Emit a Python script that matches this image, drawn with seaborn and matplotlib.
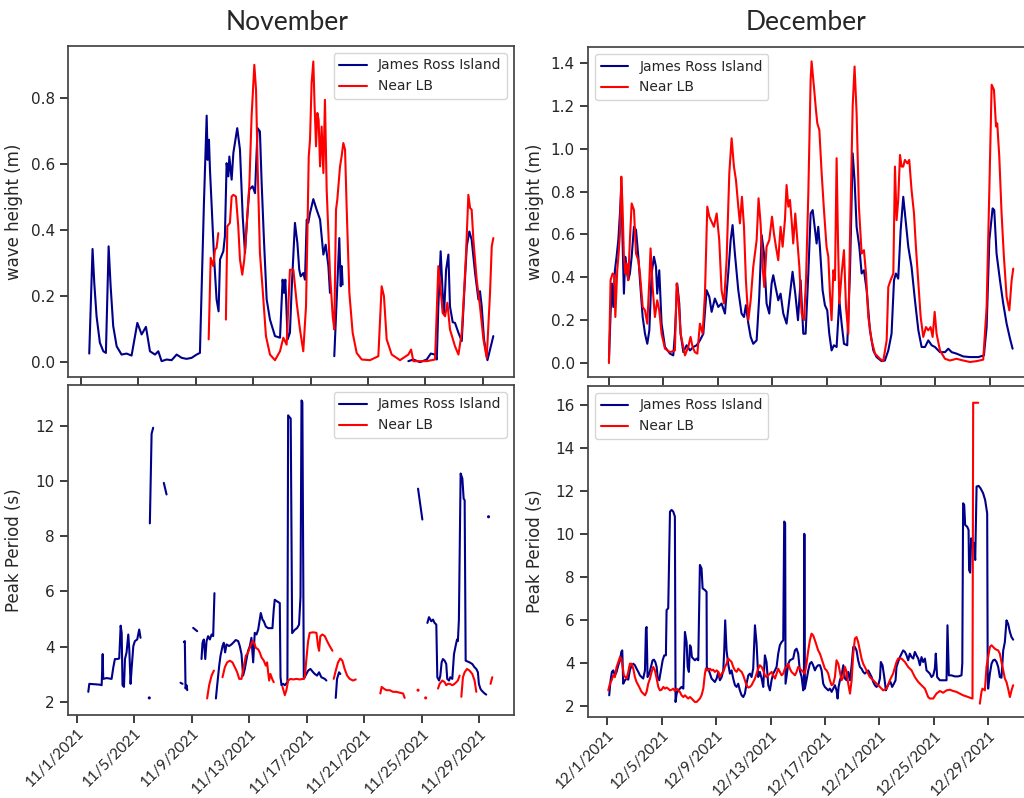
import numpy as np
import pandas as pd
import matplotlib
matplotlib.use("Agg")
import matplotlib.pyplot as plt
import seaborn as sns

N = np.nan

# ---------------- data (t = days since start of month, NaN = gap) ----------------
nov_wave_jri_t = [0.58,0.81,0.93,1.09,1.32,1.56,1.74,1.93,2.07,2.25,2.49,2.83,3.18,3.53,3.93,4.23,4.53,4.81,5.16,5.39,5.62,5.97,6.32,6.67,7.02,7.36,7.71,8.06,8.29,8.57,8.76,8.83,8.92,8.99,9.11,9.27,9.45,9.59,9.69,9.92,10.03,10.15,10.27,10.34,10.50,10.62,10.89,11.08,11.27,11.43,11.59,11.73,11.96,12.13,12.20,12.31,12.47,12.59,12.75,12.94,13.17,13.52,13.87,14.05,14.15,14.24,14.40,14.56,14.68,14.91,15.08,15.21,15.31,15.49,15.61,15.73,15.84,15.96,16.19,16.42,16.66,16.89,17.05,17.24,17.35,N,
                  17.65,18.00,18.10,18.17,18.23,N,
                  22.81,23.16,23.62,24.09,24.37,24.67,24.79,24.90,25.06,25.20,25.30,25.44,25.60,25.71,25.90,26.06,26.30,26.53,26.69,26.88,27.06,27.22,27.46,27.69,27.80,27.92,28.08,28.32,28.50,28.73]
nov_wave_jri_v = [0.026,0.343,0.240,0.139,0.059,0.033,0.028,0.351,0.230,0.109,0.048,0.023,0.026,0.020,0.119,0.084,0.107,0.033,0.023,0.033,0.003,0.008,0.006,0.023,0.013,0.010,0.013,0.023,0.028,0.482,0.747,0.613,0.674,0.583,0.472,0.321,0.190,0.154,0.311,0.336,0.381,0.603,0.563,0.623,0.553,0.634,0.709,0.644,0.442,0.331,0.442,0.523,0.533,0.512,0.593,0.709,0.699,0.543,0.371,0.190,0.129,0.079,0.074,0.250,0.210,0.250,0.069,0.089,0.220,0.422,0.361,0.280,0.260,0.270,0.250,0.432,0.422,0.452,0.494,0.462,0.432,0.326,0.356,0.291,0.210,N,
                  0.018,0.376,0.230,0.291,0.235,N,
                  0.003,0.008,0.000,0.008,0.026,0.023,0.008,0.169,0.336,0.210,0.149,0.280,0.326,0.169,0.121,0.119,0.089,0.064,0.200,0.351,0.396,0.371,0.270,0.190,0.215,0.169,0.069,0.006,0.038,0.079]

nov_wave_lb_t = [8.90,9.04,9.22,9.34,9.45,9.57,N,
                 10.10,10.20,10.38,10.50,10.62,10.80,10.96,11.08,11.24,11.38,11.54,11.73,11.89,12.08,12.20,12.31,12.47,12.66,12.89,13.17,13.52,13.87,14.10,14.33,14.56,14.80,15.03,15.26,15.49,15.68,15.77,15.87,15.96,16.07,16.19,16.28,16.38,16.47,16.56,16.66,16.77,16.89,17.00,17.12,17.35,17.54,17.65,17.77,17.86,18.05,18.16,18.28,18.40,18.51,18.70,18.93,19.21,19.56,20.14,20.72,20.95,21.11,21.30,21.65,22.23,22.81,23.00,23.16,24.09,24.67,24.90,25.02,25.20,25.37,25.53,25.71,26.06,26.30,26.53,26.69,26.83,26.99,27.11,27.22,27.34,27.57,27.80,28.04,28.27,28.50,28.62,28.73]
nov_wave_lb_v = [0.069,0.316,0.291,0.341,0.346,0.391,N,
                 0.129,0.412,0.422,0.502,0.507,0.502,0.412,0.311,0.265,0.311,0.412,0.533,0.745,0.901,0.825,0.593,0.331,0.220,0.079,0.023,0.006,0.033,0.074,0.053,0.280,0.280,0.180,0.099,0.033,0.169,0.371,0.623,0.674,0.845,0.911,0.775,0.654,0.755,0.734,0.593,0.714,0.573,0.795,0.523,0.270,0.139,0.099,0.462,0.492,0.593,0.623,0.664,0.644,0.472,0.210,0.089,0.028,0.008,0.006,0.018,0.230,0.200,0.069,0.023,0.006,0.023,0.038,0.003,0.003,0.008,0.291,0.240,0.149,0.139,0.180,0.099,0.048,0.023,0.089,0.210,0.331,0.507,0.467,0.462,0.371,0.250,0.169,0.069,0.013,0.210,0.351,0.376]

dec_wave_jri_t = [0.00,0.12,0.22,0.32,0.44,0.56,0.69,0.81,0.91,1.00,1.10,1.20,1.30,1.42,1.54,1.67,1.84,1.99,2.16,2.28,2.48,2.65,2.82,2.97,3.14,3.31,3.46,3.55,3.70,3.87,4.12,4.49,4.73,4.85,5.02,5.17,5.27,5.47,5.71,5.96,6.20,6.45,6.69,6.94,7.18,7.38,7.55,7.79,8.04,8.28,8.53,8.77,8.95,9.09,9.26,9.51,9.75,9.93,10.07,10.25,10.42,10.61,10.86,11.05,11.23,11.40,11.59,11.79,11.96,12.08,12.25,12.45,12.62,12.82,13.06,13.31,13.50,13.70,13.90,14.09,14.29,14.46,14.66,14.83,14.98,15.15,15.27,15.39,15.51,15.71,15.88,16.05,16.20,16.37,16.54,16.74,16.94,17.11,17.28,17.52,17.72,17.92,18.06,18.21,18.41,18.58,18.75,18.95,19.19,19.44,19.68,20.05,20.29,20.54,20.78,20.96,21.10,21.27,21.45,21.64,21.84,22.01,22.25,22.50,22.75,22.99,23.24,23.48,23.73,23.97,24.34,24.71,24.95,25.20,25.56,26.05,26.54,27.16,27.57,27.77,27.97,28.21,28.33,28.50,28.75,28.99,29.24,29.49,29.68]
dec_wave_jri_v = [0.012,0.231,0.371,0.262,0.433,0.496,0.574,0.698,0.823,0.574,0.324,0.496,0.433,0.387,0.418,0.496,0.636,0.621,0.496,0.387,0.215,0.137,0.090,0.153,0.418,0.496,0.449,0.324,0.433,0.184,0.075,0.044,0.036,0.137,0.371,0.278,0.137,0.051,0.083,0.059,0.075,0.083,0.106,0.137,0.340,0.309,0.239,0.301,0.262,0.278,0.231,0.418,0.574,0.644,0.511,0.340,0.231,0.215,0.270,0.184,0.122,0.090,0.106,0.309,0.597,0.511,0.278,0.231,0.371,0.410,0.355,0.293,0.324,0.231,0.184,0.324,0.426,0.324,0.200,0.387,0.137,0.137,0.418,0.698,0.714,0.621,0.558,0.636,0.543,0.340,0.270,0.246,0.137,0.059,0.083,0.075,0.293,0.184,0.090,0.083,0.418,0.979,0.854,0.636,0.543,0.418,0.433,0.340,0.153,0.059,0.028,0.009,0.012,0.059,0.137,0.387,0.418,0.394,0.621,0.776,0.652,0.543,0.449,0.293,0.153,0.075,0.075,0.106,0.083,0.075,0.051,0.051,0.067,0.051,0.044,0.031,0.028,0.028,0.036,0.168,0.574,0.722,0.714,0.511,0.387,0.278,0.184,0.114,0.067]

dec_wave_lb_t = [0.00,0.12,0.27,0.39,0.47,0.61,0.71,0.81,0.91,1.00,1.10,1.20,1.30,1.42,1.54,1.67,1.84,1.99,2.16,2.28,2.48,2.65,2.82,2.97,3.06,3.21,3.38,3.55,3.70,3.87,4.12,4.49,4.85,4.98,5.10,5.27,5.59,5.83,6.00,6.15,6.32,6.50,6.69,6.89,7.06,7.23,7.38,7.55,7.72,7.92,8.11,8.28,8.46,8.65,8.85,9.02,9.19,9.34,9.51,9.63,9.78,9.93,10.07,10.25,10.42,10.61,10.86,11.00,11.15,11.30,11.42,11.59,11.79,11.99,12.13,12.28,12.45,12.62,12.77,12.94,13.06,13.19,13.31,13.43,13.55,13.70,13.85,14.00,14.17,14.34,14.49,14.66,14.83,14.90,15.07,15.22,15.32,15.47,15.64,15.81,16.00,16.13,16.25,16.37,16.50,16.62,16.74,16.84,16.94,17.11,17.28,17.43,17.60,17.72,17.92,18.06,18.21,18.38,18.58,18.75,18.90,19.07,19.31,19.56,19.93,20.17,20.42,20.54,20.71,20.91,21.03,21.15,21.27,21.40,21.52,21.64,21.76,21.94,22.08,22.25,22.43,22.57,22.75,22.92,23.11,23.31,23.48,23.65,23.80,23.95,24.09,24.34,24.71,25.07,25.56,26.05,26.54,27.03,27.52,27.77,27.97,28.14,28.31,28.46,28.55,28.70,28.87,29.04,29.24,29.44,29.61,29.73]
dec_wave_lb_v = [0.000,0.387,0.418,0.410,0.215,0.433,0.511,0.605,0.870,0.730,0.496,0.418,0.465,0.387,0.574,0.745,0.714,0.511,0.480,0.418,0.262,0.246,0.184,0.387,0.535,0.355,0.215,0.293,0.246,0.137,0.067,0.051,0.059,0.371,0.309,0.137,0.036,0.075,0.122,0.075,0.051,0.044,0.184,0.137,0.324,0.730,0.683,0.660,0.636,0.698,0.574,0.340,0.278,0.480,0.886,1.049,0.917,0.854,0.730,0.652,0.776,0.636,0.387,0.200,0.293,0.449,0.574,0.769,0.652,0.449,0.355,0.543,0.574,0.683,0.605,0.543,0.480,0.636,0.543,0.667,0.831,0.730,0.761,0.667,0.558,0.698,0.574,0.449,0.231,0.200,0.387,0.792,1.322,1.408,1.291,1.182,1.119,1.088,0.886,0.714,0.543,0.496,0.324,0.200,0.433,0.387,0.956,0.574,0.278,0.418,0.527,0.262,0.137,0.574,1.197,1.384,1.166,0.730,0.511,0.527,0.418,0.215,0.106,0.044,0.020,0.009,0.106,0.355,0.387,0.418,0.917,0.667,0.761,0.971,0.917,0.917,0.948,0.932,0.948,0.808,0.698,0.543,0.371,0.215,0.122,0.168,0.153,0.168,0.122,0.239,0.137,0.059,0.020,0.012,0.020,0.012,0.005,0.009,0.016,0.262,0.808,1.299,1.275,1.104,1.119,0.964,0.698,0.496,0.309,0.246,0.387,0.441]

nov_per_jri_t = [0.81,0.88,1.62,1.74,1.81,1.85,2.08,2.43,2.55,2.66,2.82,2.96,3.06,3.13,3.19,3.29,3.36,3.47,3.59,3.66,3.75,3.82,3.94,4.05,4.21,4.35,4.44,N,
                 5.05,N,
                 5.09,5.21,5.32,N,
                 6.06,6.25,N,
                 7.22,7.36,N,
                 7.45,7.52,7.57,7.64,7.69,N,
                 8.10,8.38,N,
                 8.68,8.75,8.84,8.94,9.03,9.14,9.26,9.38,9.49,9.58,N,
                 9.68,9.77,9.91,10.00,10.14,10.23,10.32,10.42,10.60,10.76,10.88,11.06,11.23,11.34,11.46,11.57,11.69,11.81,11.92,12.04,12.15,12.27,12.38,12.50,12.62,12.80,12.92,13.01,13.15,13.31,13.47,13.61,13.70,13.77,13.94,14.12,14.17,14.24,14.35,14.47,14.65,14.70,14.88,14.98,15.16,15.32,15.46,15.56,15.63,15.69,15.79,15.97,16.09,16.25,16.44,16.55,16.71,16.85,17.01,17.25,17.36,N,
                 18.01,18.10,18.24,18.33,N,
                 23.73,24.03,N,
                 24.38,24.49,24.65,24.77,24.88,25.00,25.07,25.19,25.28,25.37,25.46,25.58,25.69,25.76,25.88,25.97,26.11,26.23,26.34,26.44,26.50,26.57,26.69,26.81,26.90,26.97,27.04,27.31,27.50,27.66,27.78,27.89,27.96,28.06,28.13,28.24,28.36,28.47,N,
                 28.63]
nov_per_jri_v = [2.36,2.65,2.62,2.60,3.73,2.83,2.86,2.83,3.25,3.55,3.55,3.57,4.76,4.50,2.60,2.54,3.55,3.79,4.44,3.90,2.65,3.19,4.02,4.20,4.26,4.62,4.32,N,
                 2.14,N,
                 8.47,11.72,11.94,N,
                 9.94,9.52,N,
                 2.69,2.65,N,
                 4.17,4.20,2.48,2.60,2.42,N,
                 4.68,4.56,N,
                 3.55,4.14,4.26,3.55,4.20,4.38,4.26,4.44,4.38,5.94,N,
                 2.12,2.60,3.31,3.67,4.02,4.14,3.79,4.08,4.02,4.08,4.14,4.24,4.20,4.02,3.73,2.95,3.19,3.55,3.85,4.02,4.32,3.43,4.50,4.44,4.62,5.22,4.98,4.92,4.73,4.67,4.67,4.67,5.34,5.70,5.64,5.58,2.89,2.60,2.65,2.60,2.71,12.39,12.27,4.49,4.61,4.67,4.80,5.82,12.93,12.87,2.83,3.01,3.13,3.19,3.07,3.01,2.95,3.07,2.89,2.83,2.77,N,
                 2.14,2.83,3.07,3.01,N,
                 9.73,8.61,N,
                 4.86,5.07,4.92,4.98,4.86,4.80,2.89,2.77,2.95,3.43,3.55,3.49,3.37,2.83,2.77,2.89,2.83,3.73,4.02,4.26,4.20,4.98,10.28,10.10,9.37,9.31,3.49,3.43,3.37,3.25,3.19,3.07,2.65,2.48,2.42,2.36,2.30,2.26,N,
                 8.71]

nov_per_lb_t = [9.07,9.21,9.38,9.54,N,
                10.14,10.30,10.46,10.65,10.83,11.00,11.16,11.30,11.46,11.57,11.76,11.92,12.08,12.22,12.34,12.45,12.62,12.73,12.85,13.01,13.15,13.24,13.31,13.38,13.47,13.59,13.70,N,
                14.31,14.47,14.58,14.70,14.86,15.05,15.28,15.51,15.74,15.86,15.97,16.09,16.20,16.44,16.67,16.78,16.85,16.94,17.08,17.25,17.41,17.59,17.78,N,
                17.87,18.01,18.17,18.33,18.47,18.63,18.80,18.98,19.21,19.40,N,
                21.11,21.20,21.34,21.53,21.76,21.99,22.22,22.45,22.69,22.80,N,
                23.73,N,
                24.26,N,
                25.12,25.23,25.42,25.58,25.69,25.81,25.93,26.11,26.27,26.39,26.50,26.62,N,
                26.74,26.85,26.97,27.13,27.31,27.50,27.66,27.78,N,
                28.77,28.89]
nov_per_lb_v = [2.12,2.60,2.95,3.13,N,
                2.89,3.25,3.43,3.49,3.43,3.25,3.07,2.83,2.83,3.13,3.67,3.79,4.02,4.20,4.14,3.96,3.90,3.79,3.61,3.49,3.31,3.43,3.07,2.77,3.01,2.83,2.71,N,
                2.54,2.24,2.42,2.77,2.83,2.81,2.83,2.81,2.83,2.89,3.55,4.20,4.50,4.52,4.50,4.02,3.85,4.38,4.44,4.38,4.20,4.02,3.85,N,
                2.83,3.13,3.43,3.57,3.49,3.19,2.95,2.83,2.77,2.81,N,
                2.30,2.54,2.48,2.42,2.42,2.36,2.36,2.33,2.30,2.14,N,
                2.42,N,
                2.14,N,
                2.48,2.65,2.77,2.71,2.60,2.65,2.65,2.60,2.65,2.71,2.77,2.95,N,
                2.18,2.89,3.07,3.19,3.13,3.01,2.77,2.36,N,
                2.65,2.89]

dec_per_jri_t = [0.13,0.23,0.33,0.43,0.55,0.67,0.80,0.92,1.02,1.09,1.16,1.29,1.41,1.53,1.65,1.78,1.90,2.02,2.14,2.27,2.39,2.51,2.63,2.76,2.83,2.88,2.95,3.08,3.20,3.32,3.42,3.52,3.62,3.69,3.81,3.93,4.06,4.18,4.30,4.35,4.47,4.60,4.72,4.84,4.96,5.01,5.09,5.21,5.33,5.45,5.58,5.70,5.82,5.90,5.99,6.07,6.14,6.21,6.31,6.43,6.56,6.68,6.80,6.92,7.00,7.17,7.29,7.31,7.41,7.54,7.66,7.78,7.90,8.03,8.15,8.27,8.40,8.52,8.59,8.66,8.76,8.88,9.01,9.13,9.25,9.38,9.50,9.62,9.74,9.87,9.99,10.11,10.23,10.36,10.48,10.60,10.72,10.85,10.97,11.09,11.21,11.34,11.46,11.58,11.70,11.83,11.95,12.07,12.19,12.32,12.44,12.56,12.68,12.81,12.93,13.00,13.07,13.10,13.30,13.42,13.66,13.79,13.91,14.03,14.15,14.28,14.40,14.45,14.47,14.50,14.52,14.64,14.77,14.89,15.01,15.13,15.26,15.38,15.50,15.63,15.75,15.87,15.99,16.12,16.24,16.36,16.49,16.61,16.73,16.85,16.93,17.00,17.10,17.22,17.35,17.47,17.59,17.71,17.84,17.96,18.08,18.20,18.32,18.44,18.57,18.69,18.81,18.93,19.06,19.18,19.30,19.43,19.55,19.67,19.79,19.92,20.04,20.11,20.23,20.36,20.48,20.58,20.70,20.82,20.94,21.07,21.19,21.26,21.38,21.51,21.63,21.75,21.88,22.00,22.12,22.24,22.37,22.49,22.61,22.73,22.86,22.98,23.10,23.22,23.35,23.47,23.59,23.71,23.84,23.96,24.08,24.15,24.25,24.45,24.69,24.94,25.01,25.11,25.30,25.55,25.80,26.04,26.10,26.16,26.24,26.31,26.46,26.56,26.60,26.68,26.75,26.85,26.95,27.05,27.15,27.30,27.44,27.63,27.78,27.93,27.97,28.00,28.13,28.25,28.37,28.49,28.62,28.74,28.86,28.98,29.06,29.11,29.23,29.35,29.47,29.60,29.72,29.84]
dec_per_jri_v = [2.48,3.18,3.57,3.64,3.41,3.57,3.88,4.11,4.50,4.57,3.02,3.18,3.26,3.21,3.64,3.88,3.95,3.88,3.72,3.57,3.41,3.33,3.26,3.64,5.58,5.66,3.33,3.49,3.80,4.11,4.14,4.03,3.80,3.33,3.18,3.64,4.11,4.34,4.34,6.45,6.53,11.03,11.11,11.03,10.80,2.17,2.56,2.71,2.79,2.87,2.79,5.43,4.96,3.80,3.57,4.81,4.73,4.26,4.19,4.11,4.19,4.11,8.55,8.39,7.46,7.38,7.30,3.64,3.72,3.49,3.26,3.18,3.10,3.26,3.57,3.18,3.33,3.64,4.57,5.97,4.57,3.95,3.49,3.64,3.26,2.95,2.87,3.02,2.71,2.48,2.40,2.56,3.02,3.41,3.49,3.33,3.72,5.74,4.88,3.33,3.57,3.26,2.87,4.34,4.03,2.95,2.71,3.18,3.49,3.64,3.80,4.42,4.81,4.96,5.04,10.57,10.50,3.02,3.95,4.11,4.19,4.57,4.65,4.42,3.64,3.33,2.71,2.90,10.00,9.95,2.79,3.18,3.64,3.95,4.03,3.88,3.64,3.80,3.88,3.88,3.64,3.02,2.87,2.79,2.71,2.79,2.64,2.79,2.95,2.71,2.33,2.87,3.18,3.41,3.88,3.26,3.18,3.57,3.18,3.88,4.73,4.73,4.57,4.11,3.80,3.72,3.57,3.49,3.57,3.64,3.49,3.33,3.10,2.95,2.87,2.95,3.26,4.03,3.88,3.33,2.71,2.87,3.02,3.10,2.87,3.02,3.18,3.80,4.03,4.26,4.42,4.57,4.50,4.34,4.11,4.42,4.26,4.19,4.50,4.34,4.19,3.88,4.26,4.03,4.19,3.64,3.57,3.49,3.33,3.41,3.72,4.42,3.33,3.18,3.18,3.18,5.74,3.41,3.41,3.36,3.36,3.41,3.96,11.42,11.34,10.41,10.33,10.18,8.31,8.19,9.79,9.63,9.56,8.78,12.20,12.23,12.12,11.89,11.57,10.95,3.20,2.79,3.49,3.95,4.11,4.14,4.03,3.80,3.33,3.30,4.11,4.57,4.96,5.97,5.81,5.43,5.19,5.07]

dec_per_lb_t = [0.06,0.18,0.31,0.43,0.55,0.67,0.80,0.92,1.02,1.12,1.21,1.31,1.41,1.53,1.65,1.78,1.90,2.02,2.14,2.27,2.39,2.51,2.63,2.76,2.88,3.00,3.13,3.25,3.37,3.49,3.62,3.74,3.86,3.98,4.11,4.23,4.35,4.47,4.60,4.72,4.84,4.96,5.09,5.21,5.33,5.45,5.58,5.70,5.82,5.94,6.07,6.19,6.31,6.43,6.56,6.68,6.80,6.92,7.05,7.17,7.24,7.41,7.54,7.66,7.78,7.90,8.03,8.15,8.27,8.40,8.52,8.64,8.76,8.88,9.01,9.13,9.25,9.38,9.50,9.62,9.74,9.87,9.99,10.11,10.23,10.36,10.48,10.60,10.72,10.85,10.97,11.09,11.21,11.34,11.46,11.58,11.70,11.83,11.95,12.07,12.19,12.32,12.44,12.56,12.68,12.81,12.93,13.05,13.17,13.30,13.42,13.54,13.66,13.79,13.91,14.03,14.15,14.40,14.52,14.64,14.77,14.89,15.01,15.13,15.26,15.38,15.50,15.63,15.75,15.87,15.99,16.12,16.24,16.36,16.49,16.61,16.73,16.85,16.98,17.10,17.22,17.35,17.47,17.59,17.71,17.84,17.96,18.08,18.20,18.32,18.44,18.57,18.69,18.81,18.93,19.06,19.30,19.55,19.79,20.04,20.28,20.53,20.77,21.01,21.26,21.38,21.63,21.88,22.12,22.37,22.61,22.86,23.10,23.35,23.59,23.71,23.96,24.20,24.45,24.69,24.94,25.18,25.43,25.67,25.92,26.16,26.40,26.65,26.85,26.90,27.27,N,
                27.39,27.51,27.58,27.76,27.88,28.00,28.13,28.25,28.37,28.49,28.62,28.74,28.86,28.98,29.11,29.23,29.35,29.47,29.60,29.72,29.84]
dec_per_lb_v = [2.71,3.02,3.18,3.41,3.33,3.80,4.03,4.26,4.19,3.80,3.41,3.33,3.26,3.57,3.95,3.95,3.72,3.33,3.10,2.95,2.79,2.64,2.56,2.48,2.64,3.02,3.26,3.57,3.80,3.64,3.26,2.87,2.71,2.74,2.87,2.79,2.84,2.79,2.71,2.74,2.79,2.68,2.79,2.71,2.64,2.48,2.40,2.48,2.40,2.33,2.40,2.33,2.25,2.17,2.17,2.25,2.33,2.48,2.79,3.49,3.72,3.64,3.72,3.64,3.67,3.57,3.64,3.57,3.33,3.49,3.57,3.80,3.95,4.19,4.11,4.03,3.80,3.64,3.57,3.72,3.64,3.57,3.41,3.18,2.95,2.84,2.87,2.95,3.10,3.26,3.49,3.72,3.88,3.80,3.64,3.41,3.33,3.41,3.49,3.57,3.41,3.26,3.49,3.72,3.57,3.41,3.49,3.72,3.80,3.95,3.72,3.57,3.49,3.41,3.57,3.80,3.72,3.57,3.49,3.95,4.57,5.04,5.35,5.27,5.04,4.81,4.57,4.42,4.19,3.95,3.72,3.64,3.49,3.18,2.95,3.02,3.33,4.11,3.95,3.57,3.18,3.33,3.80,3.57,3.02,2.56,3.18,4.42,5.12,5.19,4.96,4.57,4.19,3.95,3.80,3.64,3.33,3.18,3.02,2.87,2.71,2.79,3.18,3.49,4.03,4.19,4.19,4.03,3.80,3.64,3.33,3.10,2.95,2.79,2.40,2.33,2.33,2.56,2.68,2.60,2.71,2.74,2.68,2.64,2.56,2.48,2.43,2.37,2.33,16.10,16.10,N,
                2.09,2.64,2.79,2.71,3.80,4.26,4.73,4.81,4.73,4.65,4.60,4.57,4.42,4.03,3.64,3.26,3.10,2.79,2.40,2.71,2.95]

sites = ["James Ross Island", "Near LB"]
site_colors = ["darkblue", "red"]
month_titles = ["November", "December"]
nov_tick_days = [0, 4, 8, 12, 16, 20, 24, 28]
nov_tick_labels = ["11/1/2021", "11/5/2021", "11/9/2021", "11/13/2021",
                   "11/17/2021", "11/21/2021", "11/25/2021", "11/29/2021"]
dec_tick_days = [0, 4, 8, 12, 16, 20, 24, 28]
dec_tick_labels = ["12/1/2021", "12/5/2021", "12/9/2021", "12/13/2021",
                   "12/17/2021", "12/21/2021", "12/25/2021", "12/29/2021"]

# ---------------- helpers ----------------
def frame(pairs):
    parts = []
    for site, (t, v) in zip(sites, pairs):
        t = np.asarray(t, float)
        v = np.asarray(v, float)
        gap = np.isnan(v)
        seg = np.cumsum(gap)
        d = pd.DataFrame({"t": t, "v": v, "seg": [f"{site}-{s}" for s in seg],
                          "site": site})
        parts.append(d[~gap])
    return pd.concat(parts, ignore_index=True)

palette = dict(zip(sites, site_colors))

def draw(ax, pairs, legend_loc):
    df = frame(pairs)
    counts = df.groupby("seg")["t"].transform("size")
    sns.lineplot(data=df[counts > 1], x="t", y="v", hue="site", hue_order=sites,
                 units="seg", estimator=None, palette=palette, linewidth=1.5,
                 ax=ax, sort=False)
    single = df[counts == 1]
    if len(single):
        sns.scatterplot(data=single, x="t", y="v", hue="site", hue_order=sites,
                        palette=palette, s=5, linewidth=0, ax=ax, legend=False)
    h, l = ax.get_legend_handles_labels()
    ax.legend(h[:2], l[:2], loc=legend_loc, fontsize=10)
    ax.set_xlabel("")

# ---------------- figure ----------------
sns.set_theme(style="ticks")
plt.rcParams["font.family"] = ["DejaVu Sans"]
W, H = 1024, 798
fig = plt.figure(figsize=(W / 100, H / 100), dpi=100)

def box(l, r, t, b):
    return [l / W, 1 - b / H, (r - l) / W, (b - t) / H]

ax_nw = fig.add_axes(box(68, 514, 46, 377))
ax_np = fig.add_axes(box(68, 514, 385, 715))
ax_dw = fig.add_axes(box(588, 1033, 47, 377))
ax_dp = fig.add_axes(box(588, 1033, 386, 717))

draw(ax_nw, [(nov_wave_jri_t, nov_wave_jri_v), (nov_wave_lb_t, nov_wave_lb_v)], "upper right")
draw(ax_np, [(nov_per_jri_t, nov_per_jri_v), (nov_per_lb_t, nov_per_lb_v)], "upper right")
draw(ax_dw, [(dec_wave_jri_t, dec_wave_jri_v), (dec_wave_lb_t, dec_wave_lb_v)], "upper left")
draw(ax_dp, [(dec_per_jri_t, dec_per_jri_v), (dec_per_lb_t, dec_per_lb_v)], "upper left")

ax_nw.set_xlim(-0.9, 30.17); ax_nw.set_ylim(-0.045, 0.958)
ax_np.set_xlim(-0.6, 30.4); ax_np.set_ylim(1.52, 13.49)
ax_dw.set_xlim(-1.54, 31.18); ax_dw.set_ylim(-0.065, 1.475)
ax_dp.set_xlim(-1.43, 31.3); ax_dp.set_ylim(1.47, 16.88)

ax_nw.set_yticks(np.arange(0, 0.81, 0.2))
ax_np.set_yticks(np.arange(2, 12.1, 2))
ax_dw.set_yticks(np.arange(0, 1.41, 0.2))
ax_dp.set_yticks(np.arange(2, 16.1, 2))

for ax, days in [(ax_nw, nov_tick_days), (ax_dw, dec_tick_days)]:
    ax.set_xticks(days)
    ax.set_xticklabels([])
for ax, days, labs in [(ax_np, nov_tick_days, nov_tick_labels),
                       (ax_dp, dec_tick_days, dec_tick_labels)]:
    ax.set_xticks(days)
    ax.set_xticklabels(labs, rotation=45, ha="right", rotation_mode="anchor",
                       fontsize=11, family=["Lato", "DejaVu Sans"])
    ax.tick_params(axis="x", pad=2)

for ax in (ax_nw, ax_dw):
    ax.set_ylabel("wave height (m)", fontsize=12)
for ax in (ax_np, ax_dp):
    ax.set_ylabel("Peak Period (s)", fontsize=12)
for ax in (ax_nw, ax_np, ax_dw, ax_dp):
    ax.tick_params(axis="y", labelsize=11)
    ax.yaxis.set_label_coords(-0.10, 0.5)
    for s in ax.spines.values():
        s.set_color("#444444")

fig.text(287 / W, 1 - 22 / H, month_titles[0], ha="center", va="center",
         fontsize=19, family=["Lato", "DejaVu Sans"])
fig.text(806 / W, 1 - 22 / H, month_titles[1], ha="center", va="center",
         fontsize=19, family=["Lato", "DejaVu Sans"])

fig.savefig("out.png", dpi=100)
